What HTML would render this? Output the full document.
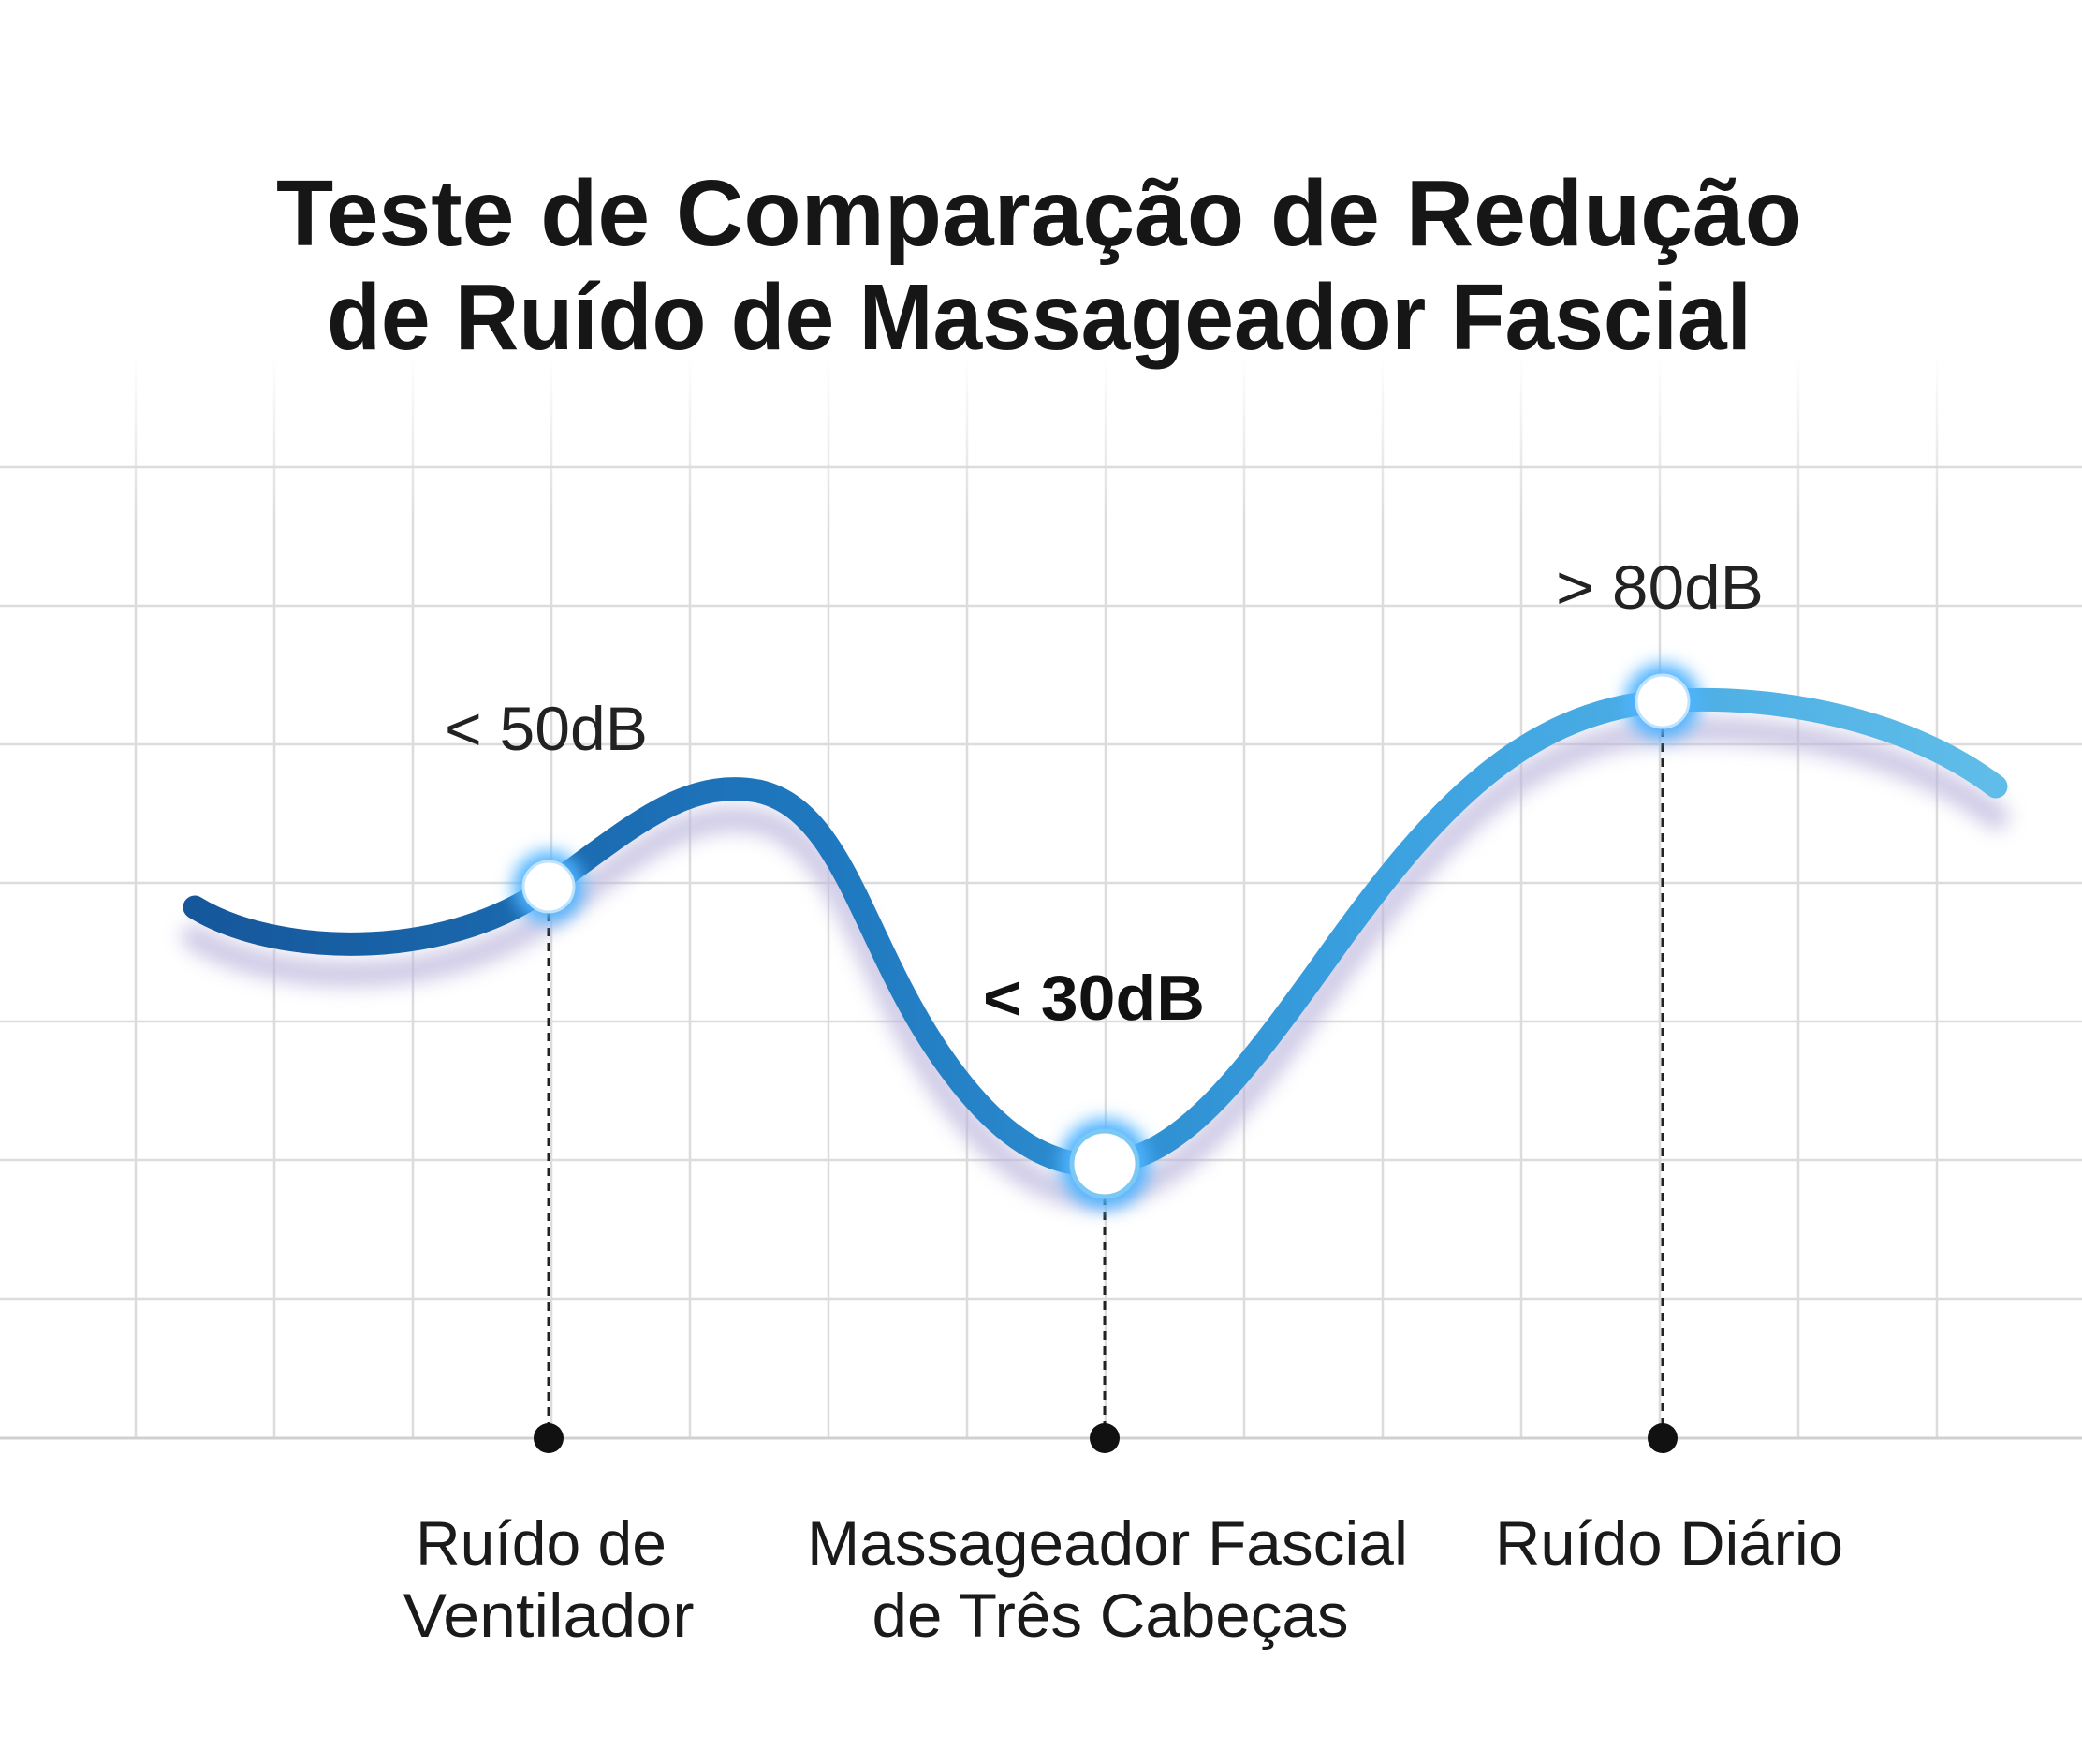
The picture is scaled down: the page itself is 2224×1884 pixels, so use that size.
<!DOCTYPE html>
<html><head><meta charset="utf-8"><style>html,body{margin:0;padding:0;background:#fff}svg{display:block}</style></head>
<body>
<svg width="2224" height="1884" viewBox="0 0 2224 1884" xmlns="http://www.w3.org/2000/svg" font-family="Liberation Sans, sans-serif">
<defs>
<linearGradient id="lg" x1="208" y1="0" x2="2132" y2="0" gradientUnits="userSpaceOnUse">
<stop offset="0" stop-color="#16579b"/><stop offset="0.35" stop-color="#1f78bf"/><stop offset="0.65" stop-color="#3aa0df"/><stop offset="1" stop-color="#60bde9"/></linearGradient>
<linearGradient id="vf" x1="0" y1="380" x2="0" y2="560" gradientUnits="userSpaceOnUse"><stop offset="0" stop-color="#dcdcdc" stop-opacity="0"/><stop offset="1" stop-color="#dcdcdc"/></linearGradient>
<filter id="bl" x="-20%" y="-20%" width="140%" height="140%"><feGaussianBlur stdDeviation="10"/></filter>
<filter id="gl" x="-100%" y="-100%" width="300%" height="300%"><feGaussianBlur stdDeviation="9"/></filter>
</defs>
<g stroke="#dcdcdc" stroke-width="2.5">
<line x1="0" y1="499" x2="2224" y2="499"/><line x1="0" y1="647" x2="2224" y2="647"/><line x1="0" y1="795" x2="2224" y2="795"/><line x1="0" y1="943" x2="2224" y2="943"/><line x1="0" y1="1091" x2="2224" y2="1091"/><line x1="0" y1="1239" x2="2224" y2="1239"/><line x1="0" y1="1387" x2="2224" y2="1387"/>
</g>
<g stroke="url(#vf)" stroke-width="2.5">
<line x1="145" y1="380" x2="145" y2="1536"/><line x1="293" y1="380" x2="293" y2="1536"/><line x1="441" y1="380" x2="441" y2="1536"/><line x1="589" y1="380" x2="589" y2="1536"/><line x1="737" y1="380" x2="737" y2="1536"/><line x1="885" y1="380" x2="885" y2="1536"/><line x1="1033" y1="380" x2="1033" y2="1536"/><line x1="1181" y1="380" x2="1181" y2="1536"/><line x1="1329" y1="380" x2="1329" y2="1536"/><line x1="1477" y1="380" x2="1477" y2="1536"/><line x1="1625" y1="380" x2="1625" y2="1536"/><line x1="1773" y1="380" x2="1773" y2="1536"/><line x1="1921" y1="380" x2="1921" y2="1536"/><line x1="2069" y1="380" x2="2069" y2="1536"/>
</g>
<line x1="0" y1="1536" x2="2224" y2="1536" stroke="#d0d0d0" stroke-width="3"/>
<text x="1110" y="262" text-anchor="middle" font-size="100" font-weight="bold" fill="#161616" textLength="1630" lengthAdjust="spacingAndGlyphs">Teste de Comparação de Redução</text>
<text x="1110" y="373" text-anchor="middle" font-size="100" font-weight="bold" fill="#161616" textLength="1522" lengthAdjust="spacingAndGlyphs">de Ruído de Massageador Fascial</text>
<path d="M208,969 C290,1020 470,1030 586,947 C670,888 730,830 810,845 C900,865 920,1000 1000,1120 C1060,1210 1120,1250 1180,1243 C1260,1235 1320,1160 1420,1020 C1520,880 1620,760 1776,749 C1900,740 2040,770 2132,840" fill="none" stroke="#b9b4dc" stroke-width="28" stroke-linecap="round" opacity="0.7" transform="translate(0,32)" filter="url(#bl)"/>
<path d="M208,969 C290,1020 470,1030 586,947 C670,888 730,830 810,845 C900,865 920,1000 1000,1120 C1060,1210 1120,1250 1180,1243 C1260,1235 1320,1160 1420,1020 C1520,880 1620,760 1776,749 C1900,740 2040,770 2132,840" fill="none" stroke="url(#lg)" stroke-width="25" stroke-linecap="round"/>
<g stroke="#222" stroke-width="3" stroke-dasharray="9,7">
<line x1="586" y1="975" x2="586" y2="1536"/><line x1="1180" y1="1278" x2="1180" y2="1536"/><line x1="1776" y1="778" x2="1776" y2="1536"/>
</g>
<g fill="#111"><circle cx="586" cy="1536" r="16"/><circle cx="1180" cy="1536" r="16"/><circle cx="1776" cy="1536" r="16"/></g>
<g fill="#4fb3ff" filter="url(#gl)"><circle cx="586" cy="947" r="38"/><circle cx="1180" cy="1243" r="48"/><circle cx="1776" cy="749" r="40"/></g>
<circle cx="586" cy="947" r="27" fill="#fff" stroke="#bfe3fb" stroke-width="3"/>
<circle cx="1180" cy="1243" r="35" fill="#fff" stroke="#7cc8f5" stroke-width="5"/>
<circle cx="1776" cy="749" r="28" fill="#fff" stroke="#bfe3fb" stroke-width="3"/>
<text x="475" y="801" font-size="66" fill="#222" textLength="217" lengthAdjust="spacingAndGlyphs">&lt; 50dB</text>
<text x="1662" y="650" font-size="66" fill="#222" textLength="222" lengthAdjust="spacingAndGlyphs">&gt; 80dB</text>
<text x="1050" y="1089" font-size="68" font-weight="bold" fill="#111" textLength="237" lengthAdjust="spacingAndGlyphs">&lt; 30dB</text>
<g font-size="66" fill="#1a1a1a" text-anchor="middle">
<text x="578" y="1671" textLength="268" lengthAdjust="spacingAndGlyphs">Ruído de</text>
<text x="586" y="1748" textLength="311" lengthAdjust="spacingAndGlyphs">Ventilador</text>
<text x="1183" y="1671" textLength="642" lengthAdjust="spacingAndGlyphs">Massageador Fascial</text>
<text x="1186" y="1748" textLength="509" lengthAdjust="spacingAndGlyphs">de Três Cabeças</text>
<text x="1783" y="1671" textLength="372" lengthAdjust="spacingAndGlyphs">Ruído Diário</text>
</g>
</svg>
</body></html>
